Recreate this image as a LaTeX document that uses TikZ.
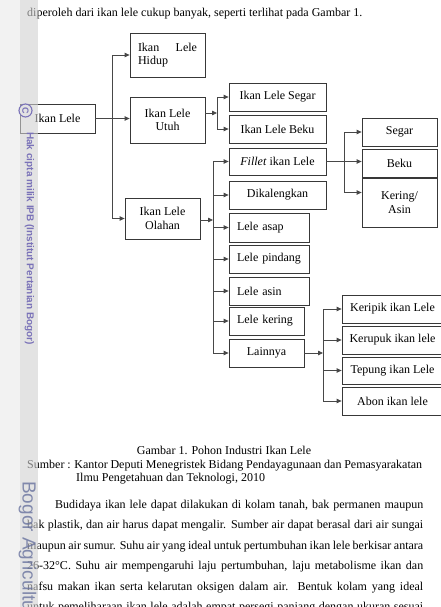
\documentclass[tikz,border=0pt]{standalone}
\usepackage{fontspec}
\setmainfont{Liberation Serif}
\newfontfamily\wmfont{Liberation Sans}
\usetikzlibrary{arrows.meta}

\definecolor{wmungu}{RGB}{122,114,184}
\definecolor{wmbiru}{RGB}{104,114,158}

\tikzset{
	kotak/.style={draw=black!78, line width=0.8pt, inner sep=0pt, align=center},
	garis/.style={draw=black!72, line width=0.8pt},
	teks/.style={inner sep=0pt, anchor=base west},
}

\begin{document}
\begin{tikzpicture}[x=1pt, y=-1pt, >={Triangle[length=5pt,width=4.5pt]},
	font=\fontsize{12}{13.5}\selectfont]
	\useasboundingbox (0,0) rectangle (441,607);
	\clip (0,0) rectangle (441,607);
	\fill[black!5] (0,0) rectangle (20,607);

	% teks halaman
	\node[teks] (atas) at (27,17) {diperoleh dari ikan lele cukup banyak, seperti terlihat pada Gambar 1.};

	% pohon industri
	\node[kotak, minimum width=75pt, minimum height=29pt] (lele) at (57.5,118.5) {Ikan Lele};
	\node[kotak, minimum width=75pt, minimum height=44pt, text width=59pt, align=left] (hidup) at (167.5,55)
		{\makebox[\linewidth]{Ikan\hfill Lele}\\Hidup};
	\node[kotak, minimum width=75pt, minimum height=46pt] (utuh) at (167.5,120) {Ikan Lele\\Utuh};
	\node[kotak, minimum width=75pt, minimum height=41pt] (olahan) at (162.5,218.5) {Ikan Lele\\Olahan};

	\node[kotak, minimum width=97pt, minimum height=28pt] (segar) at (277.5,97) {Ikan Lele Segar};
	\node[kotak, minimum width=97pt, minimum height=28pt] (beku) at (277.5,129) {Ikan Lele Beku};

	\node[kotak, minimum width=97pt, minimum height=27pt] (fillet) at (277.5,161.5) {\textit{Fillet} ikan Lele};
	\node[kotak, minimum width=97pt, minimum height=28pt] (kaleng) at (277.5,195) {Dikalengkan};
	\node[kotak, minimum width=80pt, minimum height=29pt, text width=64pt, align=left] (asap) at (269,227.5) {Lele asap};
	\node[kotak, minimum width=80pt, minimum height=28pt, text width=64pt, align=left] (pindang) at (269,259) {Lele pindang};
	\node[kotak, minimum width=80pt, minimum height=28pt, text width=64pt, align=left] (asin) at (269,291) {Lele asin};
	\node[kotak, minimum width=75pt, minimum height=28pt, text width=59pt, align=left] (kering) at (266.5,321) {Lele kering};
	\node[kotak, minimum width=75pt, minimum height=28pt] (lainnya) at (266.5,353) {Lainnya};

	\node[kotak, minimum width=75pt, minimum height=28pt] (fsegar) at (399.5,132) {Segar};
	\node[kotak, minimum width=75pt, minimum height=28pt] (fbeku) at (399.5,163) {Beku};
	\node[kotak, minimum width=75pt, minimum height=49pt] (fkering) at (399.5,202.5) {Kering/\\Asin};

	\node[kotak, minimum width=101pt, minimum height=28pt] (keripik) at (392.5,309) {Keripik ikan Lele};
	\node[kotak, minimum width=101pt, minimum height=28pt] (kerupuk) at (392.5,340) {Kerupuk ikan lele};
	\node[kotak, minimum width=101pt, minimum height=27pt] (tepung) at (392.5,370.5) {Tepung ikan Lele};
	\node[kotak, minimum width=101pt, minimum height=28pt] (abon) at (392.5,401) {Abon ikan lele};

	% cabang
	\coordinate (j1) at (112,118.5);
	\draw[garis, ->] (lele.east) -- (lele.east -| utuh.west);
	\draw[garis, ->] (j1) |- (hidup);
	\draw[garis, ->] (j1) |- (olahan);

	\coordinate (j2) at (217,113);
	\draw[garis, ->] (utuh.east |- j2) -- (j2);
	\draw[garis, ->] (j2) |- (segar);
	\draw[garis, ->] (j2) |- (beku);

	\coordinate (j3) at (213,220);
	\draw[garis, ->] (olahan.east |- j3) -- (j3);
	\draw[garis, ->] (j3) |- (fillet);
	\draw[garis, ->] (j3) |- (kaleng);
	\draw[garis, ->] (j3) |- (asap);
	\draw[garis, ->] (j3) |- (pindang);
	\draw[garis, ->] (j3) |- (asin);
	\draw[garis, ->] (j3) |- (kering);
	\draw[garis, ->] (j3) |- (lainnya);

	\coordinate (j4) at (344,161.5);
	\draw[garis, ->] (fillet.east) -- (fillet.east -| fbeku.west);
	\draw[garis, ->] (j4) |- (fsegar);
	\draw[garis, ->] (j4) |- ([yshift=10pt]fkering.west);

	\coordinate (j5) at (323,353);
	\draw[garis, ->] (lainnya) -- (j5);
	\draw[garis, ->] (j5) |- (keripik);
	\draw[garis, ->] (j5) |- (kerupuk);
	\draw[garis, ->] (j5) |- (tepung);
	\draw[garis, ->] (j5) |- (abon);

	% keterangan gambar
	\node[teks, anchor=base] (judul) at (224,454) {Gambar 1. Pohon Industri Ikan Lele};
	\node[teks] (sumber) at (27,468)
		{\makebox[395pt][s]{Sumber : Kantor Deputi Menegristek Bidang Pendayagunaan dan Pemasyarakatan}};
	\node[teks] (sumber2) at (76,481) {Ilmu Pengetahuan dan Teknologi, 2010};

	\node[teks] (b1) at (55,508)
		{\makebox[368pt][s]{Budidaya ikan lele dapat dilakukan di kolam tanah, bak permanen maupun}};
	\node[teks] (b2) at (27,528.5)
		{\makebox[396pt][s]{bak plastik, dan air harus dapat mengalir. Sumber air dapat berasal dari air sungai}};
	\node[teks] (b3) at (27,549)
		{\makebox[396pt][s]{maupun air sumur. Suhu air yang ideal untuk pertumbuhan ikan lele berkisar antara}};
	\node[teks] (b4) at (27,569.5)
		{\makebox[396pt][s]{26-32°C. Suhu air mempengaruhi laju pertumbuhan, laju metabolisme ikan dan}};
	\node[teks] (b5) at (27,590)
		{\makebox[396pt][s]{nafsu makan ikan serta kelarutan oksigen dalam air. Bentuk kolam yang ideal}};
	\node[teks] (b6) at (27,610.5)
		{\makebox[396pt][s]{untuk pemeliharaan ikan lele adalah empat persegi panjang dengan ukuran sesuai}};

	% tanda air
	\fill[black!18, opacity=0.6] (20,0) rectangle (37.5,607);
	\node[circle, draw=wmungu, fill=black!11, line width=1.1pt, minimum size=13pt, inner sep=0pt,
		text=wmungu, font=\wmfont\bfseries\fontsize{9}{9}\selectfont, rotate=-90] (hakc) at (25.5,110.5) {C};
	\node[teks, rotate=-90, text=wmungu, font=\wmfont\bfseries\fontsize{10}{10}\selectfont] (hak) at (27,132)
		{Hak cipta milik IPB (Institut Pertanian Bogor)};
	\node[teks, rotate=-90, text=wmbiru, opacity=0.8, font=\wmfont\fontsize{19}{19}\selectfont] (bogor) at (22.5,481)
		{Bogor Agricultural University};
\end{tikzpicture}
\end{document}
